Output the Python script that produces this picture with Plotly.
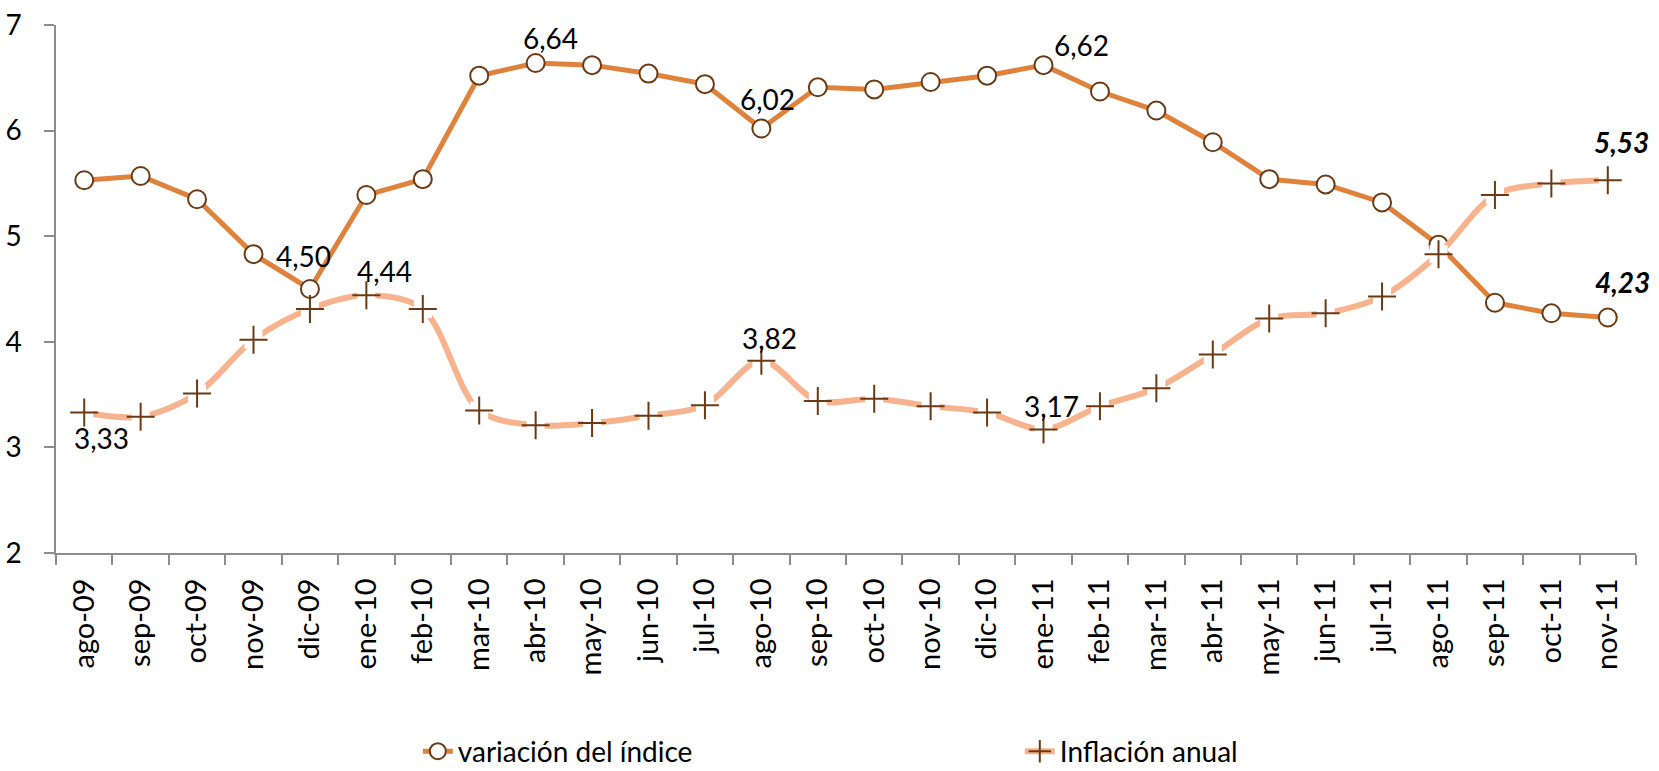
import plotly.graph_objects as go

categories = ["ago-09", "sep-09", "oct-09", "nov-09", "dic-09",
              "ene-10", "feb-10", "mar-10", "abr-10", "may-10", "jun-10", "jul-10",
              "ago-10", "sep-10", "oct-10", "nov-10", "dic-10",
              "ene-11", "feb-11", "mar-11", "abr-11", "may-11", "jun-11", "jul-11",
              "ago-11", "sep-11", "oct-11", "nov-11"]

variacion = [5.53, 5.57, 5.35, 4.83, 4.50,
             5.39, 5.54, 6.52, 6.64, 6.62, 6.54, 6.44,
             6.02, 6.41, 6.39, 6.46, 6.52,
             6.62, 6.37, 6.19, 5.89, 5.54, 5.49, 5.32,
             4.92, 4.37, 4.27, 4.23]

inflacion = [3.33, 3.29, 3.51, 4.02, 4.31,
             4.44, 4.31, 3.35, 3.21, 3.23, 3.30, 3.40,
             3.82, 3.44, 3.46, 3.39, 3.33,
             3.17, 3.39, 3.56, 3.88, 4.22, 4.27, 4.43,
             4.83, 5.39, 5.50, 5.53]

# labelled points: category index -> label text
var_labels = {4: "4,50", 8: "6,64", 12: "6,02", 17: "6,62", 27: "<b><i>4,23</i></b>"}
inf_labels = {0: "3,33", 5: "4,44", 12: "3,82", 17: "3,17", 27: "<b><i>5,53</i></b>"}

# label offsets in px (style)
var_shift = {4: (-6, 33), 8: (15, 25), 12: (6, 29), 17: (38, 20), 27: (15, 36)}
inf_shift = {0: (17, -25), 5: (18, 24), 12: (8, 23), 17: (8, 23), 27: (14, 38)}

FONT = "Lato, 'Noto Sans', sans-serif"
C_VAR = "#DF823B"
C_INF = "#F7B38E"
C_MK = "#6B3A12"
C_AX = "#8C8C8C"

fig = go.Figure()
fig.add_trace(go.Scatter(
    x=categories, y=variacion, name="variación del índice", mode="lines+markers",
    line=dict(color=C_VAR, width=5),
    marker=dict(symbol="circle", size=18, color="white", line=dict(color=C_MK, width=2)),
    legend="legend", cliponaxis=False,
))
# inflation: smooth line, white square backing, then plus markers
fig.add_trace(go.Scatter(
    x=categories, y=inflacion, mode="lines", showlegend=False, hoverinfo="skip",
    line=dict(color=C_INF, width=6, shape="spline", smoothing=0.9),
    cliponaxis=False,
))
fig.add_trace(go.Scatter(
    x=categories, y=inflacion, mode="markers", showlegend=False, hoverinfo="skip",
    marker=dict(symbol="square", size=18, color="white", line=dict(width=0)),
    cliponaxis=False,
))
fig.add_trace(go.Scatter(
    x=categories, y=inflacion, mode="markers", showlegend=False, name="Inflación anual",
    marker=dict(symbol="cross-thin", size=20, color=C_MK, line=dict(color=C_MK, width=2)),
    cliponaxis=False,
))
# legend entry for inflation (no data of its own)
fig.add_trace(go.Scatter(
    x=[None], y=[None], name="Inflación anual", mode="lines+markers",
    line=dict(color=C_INF, width=6),
    marker=dict(symbol="cross-thin", size=20, color=C_MK, line=dict(color=C_MK, width=2)),
    legend="legend2",
))

annotations = []
for i, t in var_labels.items():
    dx, dy = var_shift[i]
    annotations.append(dict(x=categories[i], y=variacion[i], text=t, showarrow=False,
                            xshift=dx, yshift=dy, font=dict(size=28, color="black", family=FONT)))
for i, t in inf_labels.items():
    dx, dy = inf_shift[i]
    annotations.append(dict(x=categories[i], y=inflacion[i], text=t, showarrow=False,
                            xshift=dx, yshift=dy, font=dict(size=28, color="black", family=FONT)))

fig.update_layout(
    width=1659, height=771,
    margin=dict(l=56, r=23, t=25, b=218, autoexpand=False),
    paper_bgcolor="white", plot_bgcolor="white",
    font=dict(family=FONT, size=28, color="black"),
    annotations=annotations,
    showlegend=True,
    legend=dict(x=0.229, y=-0.376, xanchor="left", yanchor="middle", orientation="h",
                font=dict(size=28, family=FONT), bgcolor="rgba(0,0,0,0)"),
    legend2=dict(x=0.610, y=-0.376, xanchor="left", yanchor="middle", orientation="h",
                 font=dict(size=28, family=FONT), bgcolor="rgba(0,0,0,0)"),
)
fig.update_xaxes(
    type="category", showgrid=False, showline=True, linecolor=C_AX, linewidth=1.5,
    ticks="outside", ticklen=10, tickcolor=C_AX, tickwidth=1.5, tickson="boundaries",
    tickangle=-90, tickfont=dict(size=29, family=FONT), range=[-0.5, 27.5],
    automargin=False, ticklabelstandoff=12,
)
fig.update_yaxes(
    range=[2, 7], dtick=1, showgrid=False, zeroline=False, showline=True,
    linecolor=C_AX, linewidth=1.5, ticks="outside", ticklen=10,
    tickcolor=C_AX, tickwidth=1.5, tickfont=dict(size=28, family=FONT),
    automargin=False, ticklabelstandoff=17,
)

fig.write_html(
    "out.html",
    config={"displayModeBar": False},
    post_script="document.body.style.margin='0';document.body.style.overflow='hidden';",
)
